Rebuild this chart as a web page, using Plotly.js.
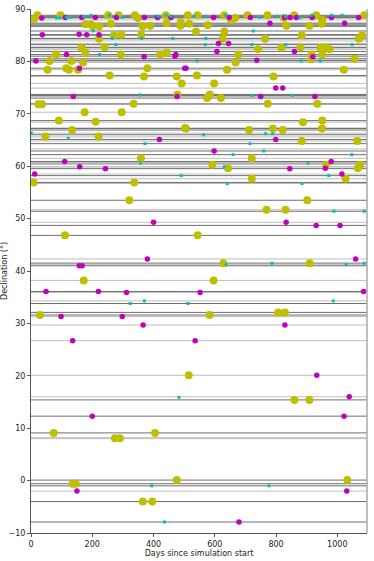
<!DOCTYPE html>
<html>
<head>
<meta charset="utf-8">
<script src="https://cdn.plot.ly/plotly-3.0.1.min.js"></script>
<style>
  html, body { margin: 0; padding: 0; background: #fff; }
  #chart { width: 374px; height: 561px; }
</style>
</head>
<body>
<div id="chart"></div>
<script>
var yellowDays = [10,21,96,252,286,339,349,440,178,196,201,223,261,364,389,443,489,488,
  222,271,295,360,240,165,178,82,293,422,443,61,132,170,54,115,124,154,380,
  257,369,476,492,478,24,36,335,175,296,91,211,134,47,221,503,
  512,544,631,667,653,707,772,859,931,951,1088,826,517,577,834,909,949,
  539,631,884,626,764,1070,1081,818,880,945,962,975,741,677,668,916,915,951,1056,
  640,1021,542,792,598,575,584,620,773,935,888,951,506,712,790,822,950,884,1065,
  9,359,337,321,111,172,721,592,643,964,1075,1067,1027,721,902,769,831,544,628,910,596,
  29,583,807,829,515,860,909,74,274,290,405,136,146,365,396,476,1033];
var yellowDec = [88.1,88.8,88.8,88.8,88.8,88.8,88.3,88.8,87.1,87.1,86.7,86.7,87.2,86.7,86.8,87.3,87.4,86.8,
  84.3,85.0,85.1,85.1,82.7,82.6,81.7,81.3,81.3,81.3,81.7,80.1,80.1,79.8,78.4,78.7,78.4,78.4,78.7,
  77.3,77.1,77.1,75.8,73.7,71.8,71.8,71.9,70.3,70.3,68.7,68.5,66.9,65.6,65.6,67.3,
  88.8,88.8,88.8,88.3,87.9,88.8,88.8,88.8,88.8,87.9,88.8,88.3,87.2,86.9,86.8,86.8,87.2,
  85.7,85.7,85.0,84.3,84.3,84.3,85.0,82.6,82.7,82.6,82.7,82.3,82.3,81.3,79.8,81.3,80.4,81.3,80.5,
  78.4,78.4,77.3,77.1,75.8,73.0,73.7,73.0,71.9,71.9,68.4,68.7,67.2,66.9,67.2,66.9,67.2,64.8,64.8,
  56.9,61.5,56.9,53.5,46.8,38.2,61.5,60.3,59.6,60.3,60.3,59.6,57.6,57.6,53.5,51.7,51.7,46.8,41.5,41.5,38.2,
  31.6,31.6,32.1,32.1,20.1,15.4,15.4,9.1,8.1,8.1,9.1,-0.6,-0.6,-4.0,-4.0,0.1,0.1];

var magentaDays = [35,112,166,210,279,370,413,457,37,157,182,222,116,369,470,473,16,158,502,138,477,419,
  596,647,716,828,846,866,918,981,1070,780,1024,612,645,607,860,737,920,506,799,822,750,927,799,
  12,110,159,243,400,380,158,167,598,845,980,961,1015,833,931,1009,1060,
  49,220,312,98,298,366,136,200,552,1086,829,536,933,1039,1022,150,1031,679];
var magentaDec = [88.3,88.4,88.4,88.4,88.4,88.4,88.4,88.4,85.1,85.2,85.1,85.1,81.3,80.9,81.0,81.3,80.1,78.7,78.7,73.3,73.3,65.1,
  88.4,88.4,88.4,88.4,88.4,88.4,88.4,88.4,88.4,87.3,87.3,83.4,83.4,81.9,81.9,80.2,80.9,78.7,74.9,74.9,73.3,73.3,65.1,
  58.5,60.9,59.9,59.5,49.3,42.3,41.0,41.0,62.9,59.5,60.9,59.6,58.5,49.3,48.7,48.7,42.3,
  36.1,36.1,35.9,31.3,31.3,29.7,26.7,12.3,35.9,36.1,29.7,26.7,20.1,16.0,12.3,-2.0,-2.0,-7.9];

var cyanDays = [83,94,116,129,172,196,256,298,415,441,457,533,568,634,747,805,831,878,916,981,1016,
  203,265,277,224,361,463,355,1,122,726,571,569,721,832,1048,542,882,945,722,854,563,766,789,
  491,372,358,715,660,760,1047,631,905,972,641,885,989,1088,637,787,1029,1088,
  324,370,483,512,987,394,436,777];
var cyanDec = [88.3,88.3,88.4,88.4,88.6,88.8,88.8,88.4,88.6,88.8,88.6,88.6,88.6,88.8,88.4,88.6,88.6,88.3,88.8,88.8,88.8,
  85.8,84.4,83.2,81.3,84.4,84.4,73.6,66.3,65.3,85.8,84.4,83.2,83.2,83.2,83.2,80.1,80.1,80.1,73.5,73.5,66.0,66.2,66.2,
  58.2,64.3,60.6,64.3,62.2,62.9,62.2,59.9,60.6,58.2,56.7,56.7,51.4,51.4,41.2,41.5,41.2,41.5,
  33.8,34.3,15.9,33.8,34.3,-1.0,-7.9,-1.0];

// declination tracks drawn across the whole run
var darkTracks = [88.8,88.6,88.4,88.3,87.3,87.1,86.8,86.7,85.8,85.1,85.0,84.4,84.3,83.2,82.7,82.6,81.9,
  81.3,81.0,80.5,80.2,80.1,78.7,77.3,73.7,73.5,73.0,71.9,68.7,67.2,66.9,66.0,65.1,64.3,62.9,62.2,
  60.9,60.6,59.6,58.2,56.9,53.5,51.4,48.7,46.8,41.5,41.0,36.1,33.8,32.1,31.6,15.4,12.3,9.1,
  0.1,-0.6,-1.0,-4.0,-7.9];
var lightTracks = [87.9,83.9,83.4,82.3,79.8,78.4,77.1,75.8,74.9,73.3,71.8,70.3,68.4,67.3,66.3,65.6,
  64.8,63.3,61.5,60.3,59.9,59.5,58.5,57.6,56.7,51.7,49.3,42.3,41.2,38.2,35.9,34.3,31.3,29.7,
  26.7,20.1,16.0,8.2,8.0,-2.0];

var xTicks = [0,200,400,600,800,1000];
var yTicks = [-10,0,10,20,30,40,50,60,70,80,90];

var shapes = [];
lightTracks.forEach(function (d) {
  shapes.push({type: 'line', layer: 'below', xref: 'paper', yref: 'y', x0: 0, x1: 1, y0: d, y1: d,
    line: {color: '#bdbdbd', width: 1}});
});
darkTracks.forEach(function (d) {
  shapes.push({type: 'line', layer: 'below', xref: 'paper', yref: 'y', x0: 0, x1: 1, y0: d, y1: d,
    line: {color: '#6e6e6e', width: 1}});
});
// light right-hand frame
shapes.push({type: 'line', xref: 'paper', yref: 'paper', x0: 1, x1: 1, y0: 0, y1: 1,
  line: {color: '#aaaaaa', width: 1.5}});

var yellow = {
  x: yellowDays, y: yellowDec, mode: 'markers', type: 'scatter',
  marker: {color: '#bfbf00', size: 8, line: {width: 0}}, cliponaxis: false
};
var magenta = {
  x: magentaDays, y: magentaDec, mode: 'markers', type: 'scatter',
  marker: {color: '#bf00bf', size: 5.5, line: {width: 0}}, cliponaxis: false
};
var cyan = {
  x: cyanDays, y: cyanDec, mode: 'markers', type: 'scatter',
  marker: {color: '#00bfbf', size: 3, symbol: 'square', line: {width: 0}}, cliponaxis: false
};

var layout = {
  width: 374, height: 561,
  margin: {l: 31, r: 7, t: 9, b: 28},
  paper_bgcolor: '#fff', plot_bgcolor: '#fff',
  showlegend: false,
  font: {family: 'DejaVu Sans', size: 8, color: '#222'},
  xaxis: {
    range: [0, 1097], showgrid: false, zeroline: false,
    showline: true, linecolor: '#555', linewidth: 1,
    tickmode: 'array', tickvals: xTicks, ticks: 'outside', ticklen: 3, tickcolor: '#555',
    tickfont: {size: 8},
    title: {text: 'Days since simulation start', font: {size: 8}, standoff: 0}
  },
  yaxis: {
    range: [-10, 90], showgrid: false, zeroline: false,
    showline: true, linecolor: '#555', linewidth: 1,
    tickmode: 'array', tickvals: yTicks, ticks: 'outside', ticklen: 3, tickcolor: '#555',
    tickfont: {size: 8},
    title: {text: 'Declination (°)', font: {size: 8}, standoff: 2}
  },
  shapes: shapes
};

Plotly.newPlot('chart', [yellow, magenta, cyan], layout, {displayModeBar: false, staticPlot: true});
</script>
</body>
</html>
